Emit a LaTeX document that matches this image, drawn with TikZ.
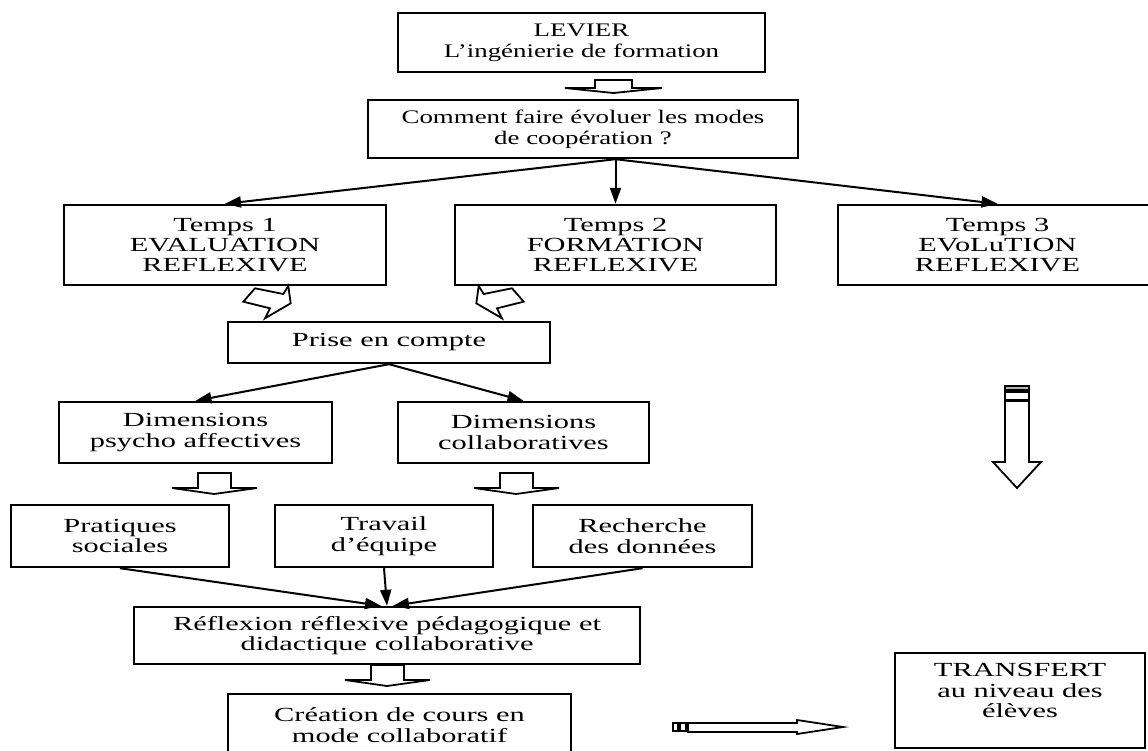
\documentclass[tikz,border=0pt]{standalone}
\usepackage{fontspec}
\setmainfont{Liberation Serif}[FakeStretch=1.52]
\newfontfamily\topfont{Liberation Serif}[FakeStretch=1.4]
\usepackage{tikz}
\usetikzlibrary{arrows.meta}

\begin{document}
\begin{tikzpicture}[x=0.5pt, y=-0.5pt,
    box/.style={draw, line width=1.2pt, align=center, inner sep=0pt,
        font=\fontsize{10}{10.2}\selectfont},
    topbox/.style={box, font=\topfont\fontsize{9.6}{10.6}\selectfont},
    link/.style={-{Triangle[length=8pt,width=5.5pt]}, line width=1pt},
    hollow/.style={draw, line width=0.9pt, fill=white, line join=miter}]

    % Frame of the page
    \useasboundingbox (0,0) rectangle (1148,751);
    \clip (0,0) rectangle (1148,751);

    % Top boxes
    \node[topbox, minimum width=183.5pt, minimum height=29.5pt] (levier) at (581.5,42.5)
        {LEVIER\\L’ingénierie de formation};
    \node[topbox, minimum width=215pt, minimum height=29pt] (comment) at (583,129)
        {Comment faire évoluer les modes\\de coopération ?};

    % The three times
    \node[box, minimum width=161pt, minimum height=40pt] (temps1) at (225,245)
        {Temps 1\\EVALUATION\\REFLEXIVE};
    \node[box, minimum width=160.5pt, minimum height=40pt] (temps2) at (615.5,245)
        {Temps 2\\FORMATION\\REFLEXIVE};
    \node[box, minimum width=159.5pt, minimum height=40pt] (temps3) at (997.5,245)
        {Temps 3\\EVoLuTION\\REFLEXIVE};

    % Middle boxes
    \node[box, minimum width=161pt, minimum height=20.5pt] (prise) at (389,342.5)
        {Prise en compte};
    \node[box, minimum width=136.5pt, minimum height=30.5pt] (dim1) at (195.5,432.5)
        {Dimensions\\psycho affectives};
    \node[box, minimum width=125.5pt, minimum height=30.5pt] (dim2) at (523.5,432.5)
        {Dimensions\\collaboratives};

    % Row of practices
    \node[box, minimum width=109pt, minimum height=31pt] (pratiques) at (120,536)
        {Pratiques\\sociales};
    \node[box, minimum width=109pt, minimum height=31pt] (travail) at (384,536)
        {Travail\\d’équipe};
    \node[box, minimum width=109.5pt, minimum height=31pt] (recherche) at (642.5,536)
        {Recherche\\des données};

    % Bottom boxes
    \node[box, minimum width=253pt, minimum height=28.5pt] (reflexion) at (387,635.5)
        {Réflexion réflexive pédagogique et\\didactique collaborative};
    \node[box, minimum width=171.5pt, minimum height=31pt] (creation) at (399.5,725)
        {Création de cours en\\mode collaboratif};
    \node[box, minimum width=125pt, minimum height=47.5pt, text depth=10pt] (transfert) at (1020,700.5)
        {TRANSFERT\\au niveau des\\élèves};

    % Arrows from the question to the three times
    \coordinate (fork) at (comment.south -| temps2.north);
    \draw[link] (fork) -- (temps1.north);
    \draw[link] (fork) -- (temps2.north);
    \draw[link] (fork) -- (temps3.north);

    % Arrows to the two dimensions
    \draw[link] (prise.south) -- (dim1.north);
    \draw[link] (prise.south) -- (dim2.north);

    % Arrows converging on the reflection
    \draw[link] (pratiques.south) -- ([xshift=-3pt]reflexion.north);
    \draw[link] (travail.south) -- (reflexion.north);
    \draw[link] (recherche.south) -- ([xshift=3pt]reflexion.north);

    % Hollow arrow under the lever
    \draw[hollow] (595,80) -- (632,80) -- (632,88) -- (662,88) -- (613.5,93)
        -- (565,88) -- (595,88) -- cycle;

    % Hollow arrows under the dimensions and the reflection
    \foreach \cx/\ty in {214/473, 516/473, 387/665} {
        \draw[hollow] ({\cx-16},\ty) -- ({\cx+17},\ty) -- ({\cx+17},{\ty+15})
            -- ({\cx+43},{\ty+15}) -- (\cx,{\ty+21}) -- ({\cx-42},{\ty+15})
            -- ({\cx-16},{\ty+15}) -- cycle;
    }

    % Slanted hollow arrows towards "Prise en compte"
    \draw[hollow] (243.3,301.7) -- (255,288.3) -- (283.3,294) -- (288.3,286)
        -- (290.7,303.3) -- (265,318.3) -- (270,308.3) -- cycle;
    \draw[hollow] (523.7,301.7) -- (512,288.3) -- (483.7,294) -- (478.7,286)
        -- (476.3,303.3) -- (502,318.3) -- (497,308.3) -- cycle;

    % Long vertical arrow on the right
    \draw[hollow, fill=gray!60] (1005,386) rectangle (1029,390);
    \draw[hollow] (1005,392) rectangle (1029,400);
    \draw[hollow] (1005,401) -- (1029,401) -- (1029,462) -- (1041,462) -- (1017,488)
        -- (993,462) -- (1005,462) -- cycle;

    % Horizontal arrow towards the transfer
    \draw[hollow] (673,723) rectangle (678,731);
    \draw[hollow] (680,723) rectangle (686,731);
    \draw[hollow] (688,723) -- (797,723) -- (797,720) -- (843,727) -- (797,734)
        -- (797,732) -- (688,732) -- cycle;
\end{tikzpicture}
\end{document}
